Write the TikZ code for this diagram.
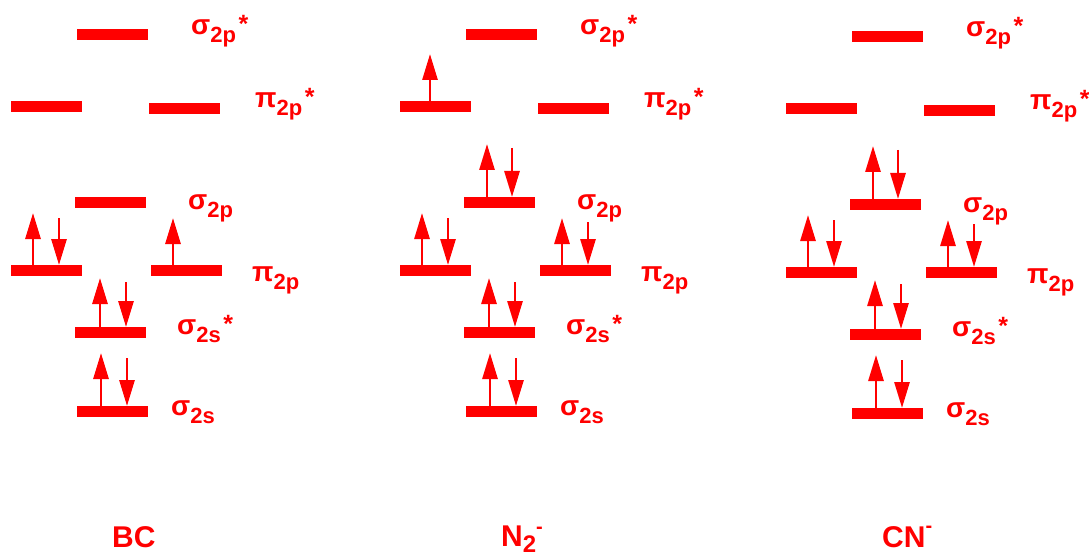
\documentclass[tikz,border=0pt]{standalone}
\usepackage{fontspec}
\setmainfont{Liberation Sans}
\usetikzlibrary{arrows.meta}
\definecolor{mored}{RGB}{255,0,0}

% orbital label: greek letter, subscript, optional star
\newcommand{\orb}[3]{{\fontsize{28}{28}\selectfont #1}\raisebox{-8pt}{\fontsize{22}{22}\selectfont #2}#3}
\newcommand{\st}{\hspace{2.5pt}\raisebox{2pt}{\fontsize{25}{25}\selectfont *}}

% electrons standing on a level node: #1 node, #2 offset from its left end, #3 length
\newcommand{\spinup}[3]{\draw[spin] ([xshift=#2pt]#1.north west) -- ++(0,-#3);}
\newcommand{\spindown}[3]{\draw[spin] ([xshift=#2pt]#1.north west) ++(0,-#3) -- ([xshift=#2pt]#1.north west);}

% the eight levels of one diagram, named with prefix #1
\newcommand{\levels}[1]{%
  \node[level] (#1sps) at (77,29) {};
  \node[level] (#1pisl) at (11,101) {};
  \node[level] (#1pisr) at (149,103) {};
  \node[level] (#1sp) at (75,197) {};
  \node[level] (#1pil) at (11,265) {};
  \node[level] (#1pir) at (151,265) {};
  \node[level] (#1sss) at (75,327) {};
  \node[level] (#1ss) at (77,406) {};
  \node[lab] (#1lsps) at (191,35) {\orb{σ}{2p}{\st}};
  \node[lab] (#1lpis) at (255,108) {\orb{π}{2p}{\st}};
  \node[lab] (#1lsp) at (188,210) {\orb{σ}{2p}{}};
  \node[lab] (#1lpi) at (252,281) {\orb{π}{2p}{}};
  \node[lab] (#1lsss) at (177,334) {\orb{σ}{2s}{\st}};
  \node[lab] (#1lss) at (171,415) {\orb{σ}{2s}{}};
}

\begin{document}
\begin{tikzpicture}[x=1pt,y=-1pt,
  level/.style={fill=mored, draw=none, minimum width=71pt, minimum height=11pt,
    inner sep=0pt, outer sep=0pt, anchor=north west},
  spin/.style={draw=mored, line width=2.8pt, -{Triangle[length=26pt,width=15pt]}},
  lab/.style={text=mored, font=\bfseries, anchor=base west, inner sep=0pt},
  title/.style={text=mored, font=\bfseries\fontsize{30}{30}\selectfont, anchor=base west, inner sep=0pt},
  ]
\useasboundingbox (0,0) rectangle (1089,556);

% BC
\begin{scope}[shift={(0,0)}]
  \levels{bc}
  \spinup{bcpil}{22}{52} \spindown{bcpil}{48}{47}
  \spinup{bcpir}{22}{47}
  \spinup{bcsss}{25}{49} \spindown{bcsss}{51}{45}
  \spinup{bcss}{24}{53}  \spindown{bcss}{50}{48}
  \node[title] (bcname) at (112,547) {BC};
\end{scope}

% N2-
\begin{scope}[shift={(389,0)}]
  \levels{nn}
  \spinup{nnpisl}{30}{47}
  \spinup{nnsp}{23}{53}  \spindown{nnsp}{48}{49}
  \spinup{nnpil}{22}{52} \spindown{nnpil}{48}{47}
  \spinup{nnpir}{22}{47} \spindown{nnpir}{48}{43}
  \spinup{nnsss}{25}{49} \spindown{nnsss}{51}{45}
  \spinup{nnss}{24}{53}  \spindown{nnss}{50}{48}
  \node[title] (nnname) at (112,546) {N\raisebox{-6pt}{\fontsize{24}{24}\selectfont 2}\raisebox{13pt}{\fontsize{20}{20}\selectfont -}};
\end{scope}

% CN-
\begin{scope}[shift={(775,2)}]
  \levels{cn}
  \spinup{cnsp}{23}{53}  \spindown{cnsp}{48}{49}
  \spinup{cnpil}{22}{52} \spindown{cnpil}{48}{47}
  \spinup{cnpir}{22}{47} \spindown{cnpir}{48}{43}
  \spinup{cnsss}{25}{49} \spindown{cnsss}{51}{45}
  \spinup{cnss}{24}{53}  \spindown{cnss}{50}{48}
  \node[title] (cnname) at (107,545) {CN\raisebox{15pt}{\fontsize{20}{20}\selectfont -}};
\end{scope}
\end{tikzpicture}
\end{document}
